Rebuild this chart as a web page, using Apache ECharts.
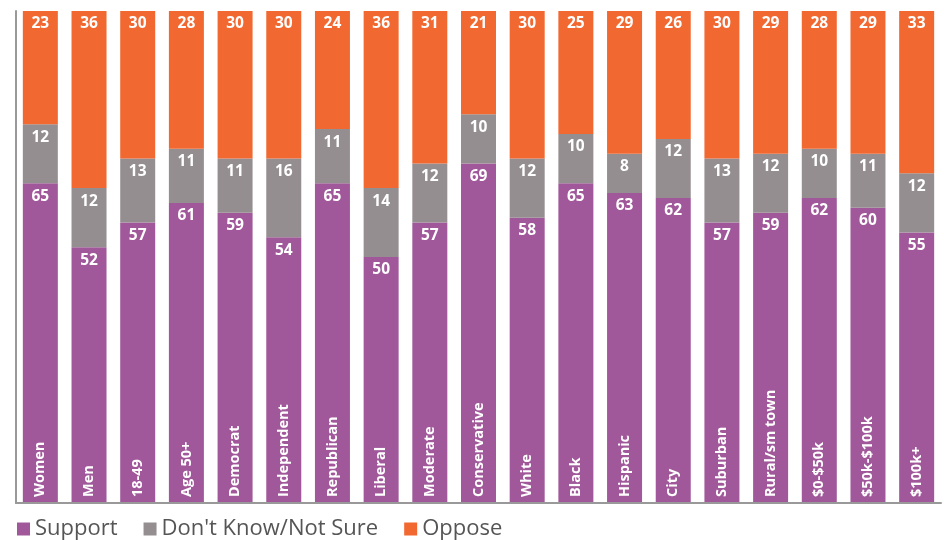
<!doctype html>
<html>
<head>
<meta charset="utf-8">
<title>Support by group</title>
<style>
  html, body { margin: 0; padding: 0; background: #fff; }
  #main { width: 944px; height: 540px; }
</style>
</head>
<body>
<div id="main"></div>
<script src="https://cdn.jsdelivr.net/npm/echarts@6/dist/echarts.min.js"></script>
<script>
var categories = ['Women', 'Men', '18-49', 'Age 50+', 'Democrat', 'Independent', 'Republican',
    'Liberal', 'Moderate', 'Conservative', 'White', 'Black', 'Hispanic', 'City', 'Suburban',
    'Rural/sm town', '$0-$50k', '$50k-$100k', '$100k+'];
var support = [65, 52, 57, 61, 59, 54, 65, 50, 57, 69, 58, 65, 63, 62, 57, 59, 62, 60, 55];
var notSure = [12, 12, 13, 11, 11, 16, 11, 14, 12, 10, 12, 10, 8, 12, 13, 12, 10, 11, 12];
var oppose = [23, 36, 30, 28, 30, 30, 24, 36, 31, 21, 30, 25, 29, 26, 30, 29, 28, 29, 33];

var chart = echarts.init(document.getElementById('main'));

function seg(name, data, color) {
    return {
        name: name,
        type: 'bar',
        stack: 'all',
        barWidth: 35,
        data: data,
        itemStyle: { color: color },
        label: {
            show: true,
            position: 'insideTop',
            distance: 5,
            color: '#fff',
            fontFamily: 'Open Sans',
            fontWeight: 'bold',
            fontSize: 15.5
        }
    };
}

chart.setOption({
    animation: false,
    grid: { left: 16, right: 3, top: 11, bottom: 37 },
    legend: {
        left: 12,
        top: 513,
        icon: 'rect',
        itemWidth: 13,
        itemHeight: 13,
        itemGap: 26,
        textStyle: { color: '#555', fontFamily: 'Open Sans', fontSize: 22 },
        data: ['Support', "Don't Know/Not Sure", 'Oppose']
    },
    xAxis: {
        type: 'category',
        data: categories,
        z: 10,
        axisLine: { lineStyle: { color: '#999', width: 2 } },
        axisTick: { show: false },
        axisLabel: {
            inside: true,
            rotate: 90,
            margin: 6,
            color: '#fff',
            fontFamily: 'Open Sans',
            fontWeight: 'bold',
            fontSize: 14.5,
            interval: 0
        }
    },
    yAxis: {
        type: 'value',
        min: 0,
        max: 100,
        axisLine: { show: true, lineStyle: { color: '#999', width: 2 } },
        axisLabel: { show: false },
        axisTick: { show: false },
        splitLine: { show: false }
    },
    series: [
        seg('Support', support, '#A0589A'),
        seg("Don't Know/Not Sure", notSure, '#958E91'),
        seg('Oppose', oppose, '#F26831')
    ]
});

window.onresize = chart.resize;
</script>
</body>
</html>
